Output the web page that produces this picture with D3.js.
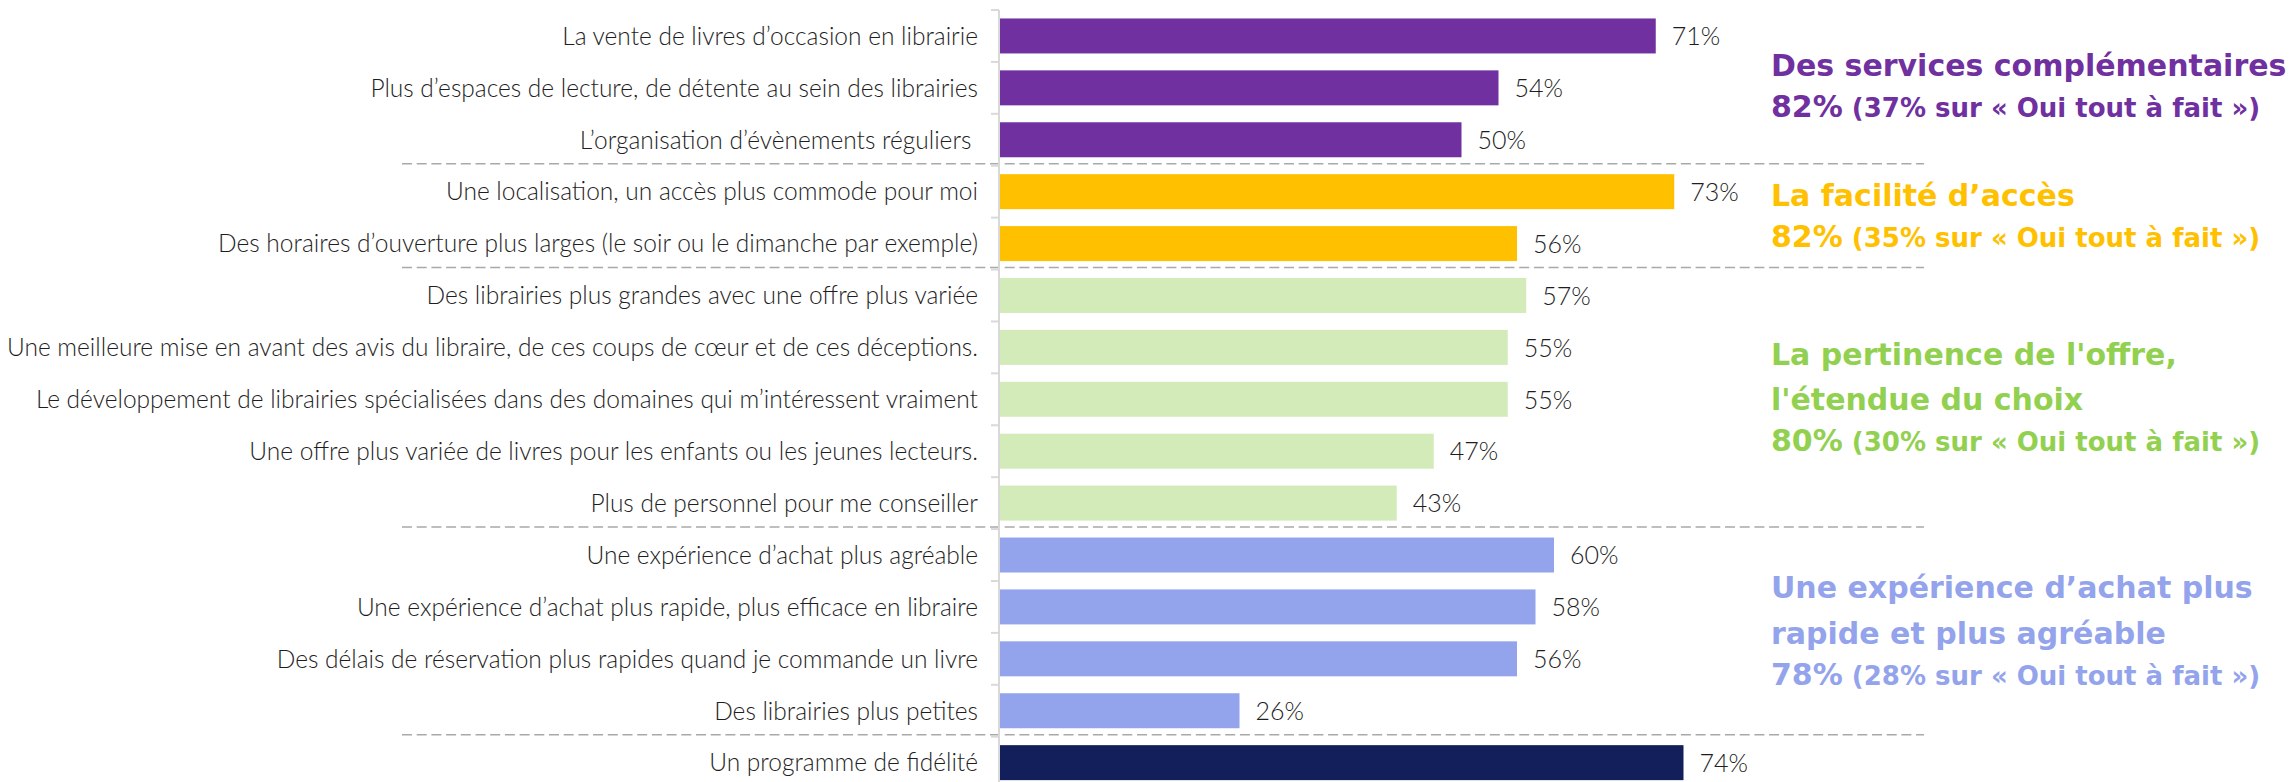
<!DOCTYPE html>
<html>
<head>
<meta charset="utf-8">
<script src="https://cdn.jsdelivr.net/npm/d3@7"></script>
<style>
  html, body { margin: 0; padding: 0; background: #ffffff; }
  svg { display: block; }
</style>
</head>
<body>
<script>
// ---------- DATA ----------
const categories = [
  "La vente de livres d’occasion en librairie",
  "Plus d’espaces de lecture, de détente au sein des librairies",
  "L’organisation d’évènements réguliers ",
  "Une localisation, un accès plus commode pour moi",
  "Des horaires d’ouverture plus larges (le soir ou le dimanche par exemple)",
  "Des librairies plus grandes avec une offre plus variée",
  "Une meilleure mise en avant des avis du libraire, de ces coups de cœur et de ces déceptions.",
  "Le développement de librairies spécialisées dans des domaines qui m’intéressent vraiment",
  "Une offre plus variée de livres pour les enfants ou les jeunes lecteurs.",
  "Plus de personnel pour me conseiller",
  "Une expérience d’achat plus agréable",
  "Une expérience d’achat plus rapide, plus efficace en libraire",
  "Des délais de réservation plus rapides quand je commande un livre",
  "Des librairies plus petites",
  "Un programme de fidélité"
];
const values = [71, 54, 50, 73, 56, 57, 55, 55, 47, 43, 60, 58, 56, 26, 74];
const groupOf = [0, 0, 0, 1, 1, 2, 2, 2, 2, 2, 3, 3, 3, 3, 4];

const groupColors = ["#7030A0", "#FFC000", "#D3EBB8", "#93A3EC", "#131F5A"];
const groupTextColors = ["#7030A0", "#FFC000", "#92D050", "#93A3EC"];
const groupTitles = [
  ["Des services complémentaires"],
  ["La facilité d’accès"],
  ["La pertinence de l'offre,", "l'étendue du choix"],
  ["Une expérience d’achat plus", "rapide et plus agréable"]
];
const groupTotals = ["82%", "82%", "80%", "78%"];
const groupTopBox = ["37%", "35%", "30%", "28%"];

// ---------- LAYOUT ----------
const W = 2295, H = 782;
const labelFont = "Lato, 'DejaVu Sans Condensed', sans-serif";
const boldFont = "'DejaVu Sans', sans-serif";

const svg = d3.select("body").append("svg")
  .attr("width", W).attr("height", H);

const x = d3.scaleLinear().domain([0, 100]).range([999, 1924]);
const y = d3.scaleBand().domain(d3.range(categories.length))
  .range([10, 788.6]).paddingInner(0.326).paddingOuter(0.163);

// group separators (dashed)
const boundaries = [];
for (let i = 1; i < groupOf.length; i++) {
  if (groupOf[i] !== groupOf[i - 1]) boundaries.push(i);
}
const bandTop = i => y(i) - y.step() * y.paddingInner() / 2;

svg.append("g").selectAll("line").data(boundaries).join("line")
  .attr("x1", 402).attr("x2", x(100))
  .attr("y1", d => bandTop(d) - 2).attr("y2", d => bandTop(d) - 2)
  .attr("stroke", "#A9A9A9").attr("stroke-width", 1.6)
  .attr("stroke-dasharray", "10,4.7");

// axis (left, category) with ticks between bands
const axisG = svg.append("g");
axisG.append("line")
  .attr("x1", x(0)).attr("x2", x(0))
  .attr("y1", y.range()[0]).attr("y2", y.range()[1])
  .attr("stroke", "#D9D9D9").attr("stroke-width", 2);
axisG.selectAll("line.tick").data(d3.range(categories.length + 1)).join("line")
  .attr("class", "tick")
  .attr("x1", x(0) - 8).attr("x2", x(0))
  .attr("y1", d => y.range()[0] + d * y.step())
  .attr("y2", d => y.range()[0] + d * y.step())
  .attr("stroke", "#D9D9D9").attr("stroke-width", 2);

// bars
svg.append("g").selectAll("rect").data(values).join("rect")
  .attr("x", x(0) + 1)
  .attr("y", (d, i) => y(i))
  .attr("width", d => x(d) - x(0) - 1)
  .attr("height", y.bandwidth())
  .attr("fill", (d, i) => groupColors[groupOf[i]]);

// category labels
svg.append("g").selectAll("text").data(categories).join("text")
  .attr("x", 978)
  .attr("y", (d, i) => y(i) + y.bandwidth() / 2)
  .attr("dy", "0.36em")
  .attr("text-anchor", "end")
  .attr("font-family", labelFont)
  .attr("font-weight", 300)
  .attr("font-size", 24.5)
  .attr("fill", "#1e1e1e")
  .attr("xml:space", "preserve")
  .text(d => d);

// value labels
svg.append("g").selectAll("text").data(values).join("text")
  .attr("x", d => x(d) + 16)
  .attr("y", (d, i) => y(i) + y.bandwidth() / 2)
  .attr("dy", "0.37em")
  .attr("font-family", labelFont)
  .attr("font-weight", 300)
  .attr("font-size", 25)
  .attr("fill", "#1e1e1e")
  .text(d => d + "%");

// group annotations
const lineH = 45.3;
groupTitles.forEach((lines, g) => {
  const idx = d3.range(groupOf.length).filter(i => groupOf[i] === g);
  const c0 = y(idx[0]) + y.bandwidth() / 2;
  const c1 = y(idx[idx.length - 1]) + y.bandwidth() / 2;
  const center = (c0 + c1) / 2;
  const nLines = lines.length + 1;
  const firstY = center - (nLines - 1) * lineH / 2;
  const gg = svg.append("g")
    .attr("font-family", boldFont)
    .attr("font-weight", "bold")
    .attr("fill", groupTextColors[g]);
  lines.forEach((t, k) => {
    gg.append("text")
      .attr("x", 1771)
      .attr("y", firstY + k * lineH)
      .attr("dy", "0.36em")
      .attr("font-size", 30)
      .text(t);
  });
  const t2 = gg.append("text")
    .attr("x", 1771)
    .attr("y", firstY + lines.length * lineH)
    .attr("dy", "0.40em");
  t2.append("tspan").attr("font-size", 30).text(groupTotals[g]);
  t2.append("tspan").attr("font-size", 26)
    .text(" (" + groupTopBox[g] + " sur « Oui tout à fait »)");
});
</script>
</body>
</html>
